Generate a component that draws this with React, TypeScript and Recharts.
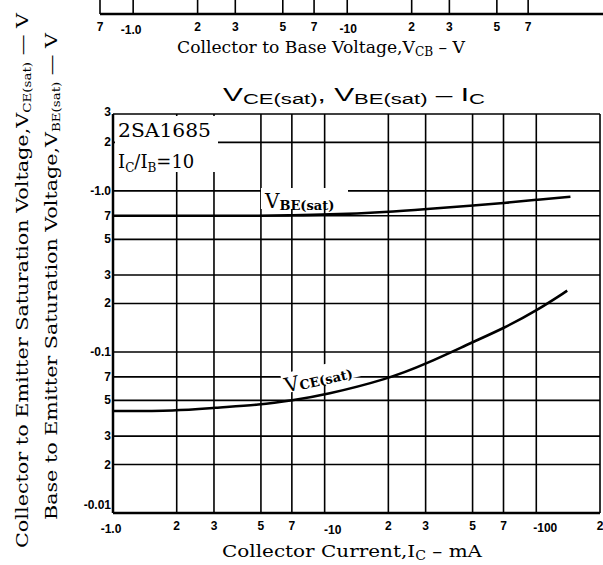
import React from "react";
import { CartesianGrid, Line, LineChart, XAxis, YAxis } from "recharts";

// Collector current (mA, absolute value) where each curve was read
const IC_VBE = [1, 2, 3, 5, 7, 10, 20, 30, 50, 70, 100, 145];
const VBE_SAT = [0.7, 0.7, 0.7, 0.7, 0.705, 0.71, 0.74, 0.77, 0.81, 0.84, 0.88, 0.92];

const IC_VCE = [1, 2, 3, 5, 7, 10, 20, 30, 50, 70, 100, 140];
const VCE_SAT = [0.043, 0.043, 0.045, 0.047, 0.05, 0.054, 0.068, 0.084, 0.115, 0.14, 0.18, 0.24];

const X_TICKS = [1, 2, 3, 5, 7, 10, 20, 30, 50, 70, 100, 200];
const Y_TICKS = [0.01, 0.02, 0.03, 0.05, 0.07, 0.1, 0.2, 0.3, 0.5, 0.7, 1, 2, 3];

// cut-off axis of the chart above (Collector to Base Voltage)
const VCB_TICKS = [0.7, 1, 2, 3, 5, 7, 10, 20, 30, 50, 70];

const vbeData = IC_VBE.map((ic, i) => ({ ic, v: VBE_SAT[i] }));
const vceData = IC_VCE.map((ic, i) => ({ ic, v: VCE_SAT[i] }));
const vcbData = [{ vcb: 0.7 }, { vcb: 160 }];

const tickFont = { fontFamily: "Liberation Sans, Arial, sans-serif", fontWeight: 700, fontSize: 12 };
const serif = "DejaVu Serif, serif";

function decadeLabel(v: number) {
  if (v === 1) return "-1.0";
  if (v === 10) return "-10";
  if (v === 100) return "-100";
  if (v === 0.1) return "-0.1";
  if (v === 0.01) return "-0.01";
  return String(v).replace(/^0\.0?/, "").charAt(0);
}

const XTick = (props: any) => {
  const { x, y, payload } = props;
  const v = payload.value;
  let dx = 0;
  let dy = 0;
  if (v === 1) { dx = -2; dy = 3; }
  if (v === 10) { dx = 8; dy = 4; }
  if (v === 100) { dx = 9; dy = 2; }
  return (
    <text x={x + dx} y={y + dy} textAnchor="middle" dominantBaseline="hanging" fill="#000" style={tickFont}>
      {decadeLabel(v)}
    </text>
  );
};

const VcbTick = (props: any) => {
  const { x, y, payload } = props;
  const v = payload.value;
  let dx = 0;
  let dy = 0;
  if (v === 1) { dx = -2; dy = 3; }
  if (v === 10) { dx = 1; dy = 2; }
  return (
    <text x={x + dx} y={y + dy} textAnchor="middle" dominantBaseline="hanging" fill="#000" style={tickFont}>
      {decadeLabel(v)}
    </text>
  );
};

const YTick = (props: any) => {
  const { y, payload } = props;
  const v = payload.value;
  let dy = 4;
  if (v === 0.01) dy = -4;
  if (v === 3) dy = 2;
  return (
    <text x={111} y={y + dy} textAnchor="end" fill="#000" style={tickFont}>
      {decadeLabel(v)}
    </text>
  );
};

export default function App() {
  return (
    <div style={{ position: "absolute", left: 0, top: 0, width: 603, height: 565, background: "#fff", overflow: "hidden" }}>
      {/* bottom edge of the chart above */}
      <div style={{ position: "absolute", left: 0, top: 0 }}>
        <LineChart width={610} height={40} data={vcbData} margin={{ top: -20, right: 5, left: 100, bottom: 0 }}>
          <CartesianGrid horizontal={false} stroke="#000" strokeWidth={1.6} />
          <XAxis
            dataKey="vcb"
            type="number"
            scale="log"
            domain={[0.7, 160]}
            ticks={VCB_TICKS}
            allowDataOverflow
            height={26}
            tickLine={false}
            axisLine={{ stroke: "#000", strokeWidth: 2.5 }}
            tick={<VcbTick />}
            interval={0}
          />
          <YAxis hide domain={[0, 1]} />
        </LineChart>
      </div>

      <div style={{ position: "absolute", left: 0, top: 0 }}>
        <LineChart width={603} height={565} margin={{ top: 114, right: 3, left: 73, bottom: 22 }}>
          <CartesianGrid stroke="#000" strokeWidth={1.6} />
          <XAxis
            dataKey="ic"
            type="number"
            scale="log"
            domain={[1, 200]}
            ticks={X_TICKS}
            allowDataOverflow
            height={30}
            tickLine={false}
            axisLine={{ stroke: "#000", strokeWidth: 2.5 }}
            tick={<XTick />}
            interval={0}
          />
          <YAxis
            dataKey="v"
            type="number"
            scale="log"
            domain={[0.01, 3]}
            ticks={Y_TICKS}
            allowDataOverflow
            width={40}
            tickLine={false}
            axisLine={{ stroke: "#000", strokeWidth: 2.5 }}
            tick={<YTick />}
            interval={0}
          />
          <Line data={vbeData} dataKey="v" type="basis" stroke="#000" strokeWidth={2.6} dot={false} isAnimationActive={false} />
          <Line data={vceData} dataKey="v" type="basis" stroke="#000" strokeWidth={2.6} dot={false} isAnimationActive={false} />
        </LineChart>
      </div>

      <svg width={603} height={565} style={{ position: "absolute", left: 0, top: 0, pointerEvents: "none" }}>
        {/* annotation box */}
        <rect x={115} y={116} width={103} height={56} fill="#fff" />
        <text x={118} y={137} fontFamily={serif} fontSize={18} fill="#000" textLength={93} lengthAdjust="spacingAndGlyphs">2SA1685</text>
        <text x={118} y={168} fontFamily={serif} fontSize={18} fill="#000">
          I<tspan fontSize={12} dy={4}>C</tspan>
          <tspan dy={-4}>/I</tspan>
          <tspan fontSize={12} dy={4}>B</tspan>
          <tspan dy={-4}>=10</tspan>
        </text>

        {/* curve labels */}
        <rect x={261} y={188} width={87} height={21} fill="#fff" />
        <text x={265} y={208} fontFamily={serif} fontSize={20} fill="#000">
          V<tspan fontSize={13} fontWeight={700} dy={2}>BE(sat)</tspan>
        </text>
        <g transform="rotate(-13 322 378)">
          <rect x={282} y={365} width={82} height={20} fill="#fff" />
          <text x={284} y={384} fontFamily={serif} fontSize={20} fill="#000">
            V<tspan fontSize={13} fontWeight={700} dy={1}>CE(sat)</tspan>
          </text>
        </g>

        {/* title */}
        <text x={223} y={101} fontFamily="Liberation Sans, Arial, sans-serif" fontSize={19} fill="#000" textLength={262} lengthAdjust="spacingAndGlyphs">
          V<tspan fontSize={14} dy={3}>CE(sat)</tspan>
          <tspan dy={-3}>, V</tspan>
          <tspan fontSize={14} dy={3}>BE(sat)</tspan>
          <tspan dy={-3}>{"   \u2013   I"}</tspan>
          <tspan fontSize={14} dy={3}>C</tspan>
        </text>

        {/* axis titles */}
        <text x={222} y={557} fontFamily={serif} fontSize={17} fill="#000" textLength={260} lengthAdjust="spacingAndGlyphs">
          Collector Current,I<tspan fontSize={12} dy={3}>C</tspan>
          <tspan dy={-3}>{" \u2013 mA"}</tspan>
        </text>
        <text x={177} y={53} fontFamily={serif} fontSize={17} fill="#000" textLength={288} lengthAdjust="spacingAndGlyphs">
          Collector to Base Voltage,V<tspan fontSize={12} dy={3}>CB</tspan>
          <tspan dy={-3}>{" \u2013 V"}</tspan>
        </text>
        <text transform="translate(28 548) rotate(-90)" fontFamily={serif} fontSize={17} fill="#000" textLength={535} lengthAdjust="spacingAndGlyphs">
          Collector to Emitter Saturation Voltage,V<tspan fontSize={11} dy={3}>CE(sat)</tspan>
          <tspan dy={-3}>{" \u2014 V"}</tspan>
        </text>
        <text transform="translate(57 520) rotate(-90)" fontFamily={serif} fontSize={17} fill="#000" textLength={487} lengthAdjust="spacingAndGlyphs">
          Base to Emitter Saturation Voltage,V<tspan fontSize={11} dy={3}>BE(sat)</tspan>
          <tspan dy={-3}>{" \u2014 V"}</tspan>
        </text>
      </svg>
    </div>
  );
}
